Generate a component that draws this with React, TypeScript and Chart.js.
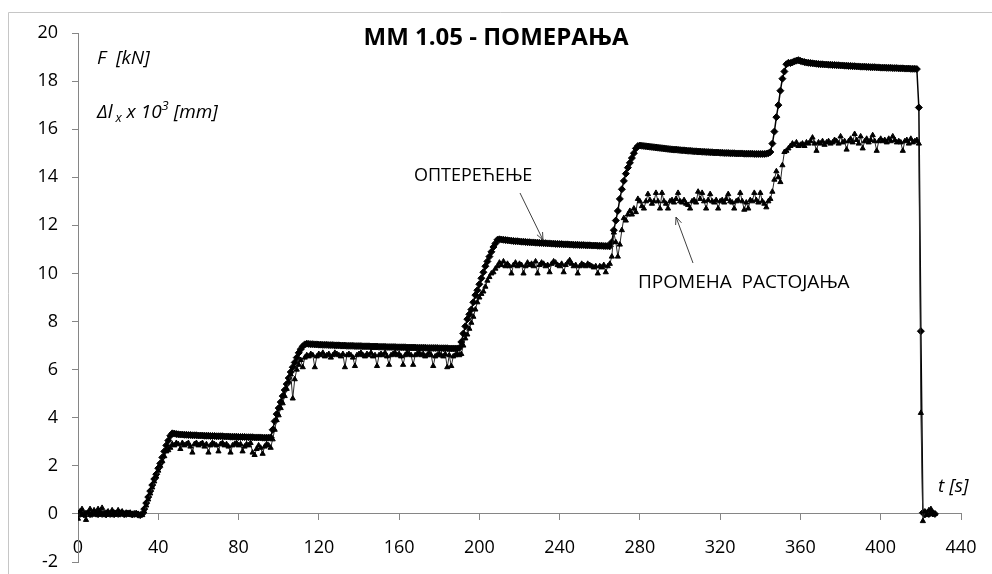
import React, { useEffect, useRef } from "react";
import { Chart, registerables } from "chart.js";

Chart.register(...registerables);

// sampling interval of the recorded signals [s]
const TIME_STEP_S = 1;

// ОПТЕРЕЋЕЊЕ – load F [kN], one sample per second from t = 0 s
const loadF = [
  0.02, 0.0, 0.03, -0.02, 0.01, 0.02, -0.01, 0.0, 0.03, 0.01,
  -0.01, 0.02, 0.0, 0.01, -0.02, 0.02, 0.0, 0.01, -0.01, 0.02,
  0.0, 0.01, 0.03, -0.01, 0.0, 0.02, 0.01, -0.02, 0.0, 0.01,
  -0.03, -0.05, 0.0, 0.2, 0.45, 0.7, 0.95, 1.2, 1.45, 1.65,
  1.9, 2.1, 2.35, 2.6, 2.85, 3.05, 3.25, 3.35, 3.34, 3.32,
  3.31, 3.3, 3.3, 3.29, 3.29, 3.28, 3.28, 3.27, 3.27, 3.27,
  3.26, 3.26, 3.26, 3.25, 3.25, 3.25, 3.24, 3.24, 3.24, 3.23,
  3.23, 3.23, 3.23, 3.22, 3.22, 3.22, 3.21, 3.21, 3.21, 3.21,
  3.2, 3.2, 3.2, 3.2, 3.19, 3.19, 3.19, 3.19, 3.18, 3.18,
  3.18, 3.18, 3.17, 3.17, 3.17, 3.17, 3.18, 3.5, 3.85, 4.15,
  4.4, 4.65, 4.9, 5.15, 5.4, 5.65, 5.9, 6.1, 6.3, 6.5,
  6.7, 6.85, 6.97, 7.05, 7.08, 7.07, 7.06, 7.06, 7.05, 7.05,
  7.04, 7.04, 7.03, 7.03, 7.03, 7.02, 7.02, 7.02, 7.01, 7.01,
  7.01, 7.0, 7.0, 7.0, 6.99, 6.99, 6.99, 6.99, 6.98, 6.98,
  6.98, 6.98, 6.97, 6.97, 6.97, 6.97, 6.96, 6.96, 6.96, 6.96,
  6.95, 6.95, 6.95, 6.95, 6.94, 6.94, 6.94, 6.94, 6.94, 6.93,
  6.93, 6.93, 6.93, 6.93, 6.92, 6.92, 6.92, 6.92, 6.92, 6.91,
  6.91, 6.91, 6.91, 6.91, 6.9, 6.9, 6.9, 6.9, 6.9, 6.9,
  6.89, 6.89, 6.89, 6.89, 6.89, 6.88, 6.88, 6.88, 6.88, 6.88,
  6.9, 7.15, 7.5, 7.8, 8.1, 8.3, 8.5, 8.8, 9.1, 9.3,
  9.55, 9.8, 10.05, 10.3, 10.5, 10.7, 10.9, 11.1, 11.25, 11.4,
  11.42, 11.41, 11.4, 11.39, 11.38, 11.37, 11.36, 11.35, 11.34, 11.34,
  11.33, 11.32, 11.32, 11.31, 11.3, 11.3, 11.29, 11.29, 11.28, 11.28,
  11.27, 11.27, 11.26, 11.26, 11.25, 11.25, 11.24, 11.24, 11.23, 11.23,
  11.22, 11.22, 11.21, 11.21, 11.21, 11.2, 11.2, 11.19, 11.19, 11.19,
  11.18, 11.18, 11.18, 11.17, 11.17, 11.17, 11.16, 11.16, 11.16, 11.15,
  11.15, 11.15, 11.14, 11.14, 11.14, 11.13, 11.3, 11.8, 12.2, 12.6,
  13.1, 13.5, 13.85, 14.15, 14.4, 14.6, 14.8, 15.0, 15.2, 15.3,
  15.32, 15.31, 15.3, 15.29, 15.28, 15.27, 15.26, 15.25, 15.24, 15.23,
  15.22, 15.21, 15.2, 15.19, 15.18, 15.17, 15.16, 15.15, 15.15, 15.14,
  15.13, 15.12, 15.12, 15.11, 15.1, 15.1, 15.09, 15.08, 15.08, 15.07,
  15.07, 15.06, 15.06, 15.05, 15.05, 15.04, 15.04, 15.03, 15.03, 15.03,
  15.02, 15.02, 15.01, 15.01, 15.01, 15.0, 15.0, 15.0, 14.99, 14.99,
  14.99, 14.99, 14.98, 14.98, 14.98, 14.98, 14.98, 14.97, 14.97, 14.97,
  14.97, 14.97, 14.97, 14.98, 15.0, 15.05, 15.4, 15.9, 16.5, 17.0,
  17.6, 18.1, 18.4, 18.7, 18.76, 18.75, 18.78, 18.82, 18.85, 18.87,
  18.84, 18.81, 18.79, 18.77, 18.76, 18.75, 18.74, 18.73, 18.72, 18.71,
  18.7, 18.7, 18.69, 18.69, 18.68, 18.68, 18.67, 18.67, 18.66, 18.66,
  18.65, 18.65, 18.64, 18.64, 18.63, 18.63, 18.62, 18.62, 18.61, 18.61,
  18.6, 18.6, 18.6, 18.59, 18.59, 18.58, 18.58, 18.58, 18.57, 18.57,
  18.56, 18.56, 18.56, 18.55, 18.55, 18.55, 18.54, 18.54, 18.54, 18.53,
  18.53, 18.53, 18.52, 18.52, 18.52, 18.51, 18.51, 18.51, 18.5, 16.9,
  7.6, 0.05, -0.02, 0.03, 0.0, 0.04, 0.02, 0.0,
];

// ПРОМЕНА РАСТОЈАЊА – Δl_x × 10³ [mm], one sample per second from t = 0 s
const distanceChange = [
  -0.2, 0.1, 0.2, -0.05, -0.25, 0.05, 0.2, 0.0, 0.15, 0.05,
  0.2, 0.1, 0.25, 0.0, 0.05, 0.1, 0.0, 0.15, 0.05, 0.0,
  0.15, 0.05, 0.1, 0.0, 0.05, 0.0, 0.05, 0.0, -0.05, 0.0,
  0.0, -0.05, -0.05, 0.1, 0.35, 0.6, 0.85, 1.1, 1.35, 1.55,
  1.8, 2.0, 2.2, 2.4, 2.6, 2.65, 2.75, 2.9, 2.85, 2.95,
  2.9, 2.7, 2.95, 2.85, 2.9, 2.95, 2.8, 2.55, 2.9, 2.95,
  2.85, 2.9, 2.95, 2.8, 2.9, 2.55, 2.85, 2.95, 2.9, 2.85,
  2.6, 2.9, 2.95, 2.85, 2.9, 2.8, 2.55, 2.85, 2.9, 2.95,
  2.85, 2.9, 2.6, 2.8, 2.9, 2.85, 2.95, 2.55, 2.45, 2.7,
  2.85, 2.75, 2.5, 2.8, 2.9, 2.85, 2.75, 3.1, 3.5, 3.9,
  4.1, 4.4, 4.6, 4.9, 5.2, 5.5, 5.8, 4.8, 5.6, 6.0,
  6.2, 6.4, 6.1, 6.5, 6.6, 6.55, 6.65, 6.6, 6.1, 6.55,
  6.65, 6.6, 6.7, 6.55, 6.6, 6.65, 6.5, 6.6, 6.7, 6.65,
  6.6, 6.55, 6.65, 6.1, 6.6, 6.65, 6.6, 6.5, 6.15, 6.6,
  6.65, 6.7, 6.6, 6.55, 6.65, 6.6, 6.7, 6.55, 6.6, 6.15,
  6.6, 6.65, 6.6, 6.7, 6.55, 6.2, 6.6, 6.65, 6.7, 6.6,
  6.65, 6.55, 6.2, 6.6, 6.7, 6.65, 6.6, 6.2, 6.6, 6.65,
  6.7, 6.6, 6.65, 6.55, 6.6, 6.7, 6.6, 6.15, 6.55, 6.6,
  6.65, 6.6, 6.55, 6.65, 6.1, 6.6, 6.15, 6.55, 6.6, 6.65,
  6.6, 6.65, 7.0, 7.3, 7.46, 7.7, 7.95, 8.2, 8.5, 8.8,
  9.0, 9.15, 9.25, 9.45, 9.7, 9.85, 10.0, 10.05, 10.2, 10.3,
  10.45, 10.35, 10.5, 10.3, 10.4, 10.3, 10.0, 10.35, 10.45, 10.3,
  10.4, 10.35, 10.0, 10.3, 10.45, 10.35, 10.4, 10.3, 10.5, 10.0,
  10.35, 10.45, 10.4, 10.3, 10.35, 10.05, 10.4, 10.5, 10.45, 10.35,
  10.3, 10.4, 10.05, 10.35, 10.45, 10.55, 10.4, 10.3, 10.35, 10.0,
  10.3, 10.4, 10.35, 10.3, 10.4, 10.35, 10.3, 10.25, 10.3, 10.0,
  10.3, 10.25, 10.35, 10.05, 10.3, 10.4, 10.7, 11.7, 11.3, 10.7,
  11.2, 11.8, 12.3, 12.2, 12.45, 12.6, 12.45, 12.7, 12.55, 13.1,
  13.0, 12.8, 12.7, 13.0, 13.3, 13.05, 12.9, 13.0, 13.35, 13.0,
  12.7, 13.35, 13.0, 12.9, 12.7, 13.0, 13.05, 12.95, 13.1, 13.35,
  13.0, 12.95, 13.05, 12.9, 12.85, 12.7, 13.0, 13.05, 12.95, 13.4,
  13.1, 13.35, 13.0, 12.7, 13.05, 13.3, 13.0, 12.95, 13.05, 12.7,
  13.0, 13.05, 12.95, 13.1, 13.3, 13.0, 12.95, 12.7, 13.0, 13.05,
  13.35, 13.0, 12.65, 12.95, 12.7, 13.05, 13.0, 13.35, 13.05, 12.95,
  13.35, 13.0, 12.9, 12.75, 13.0, 13.1, 13.4, 13.9, 14.25, 14.0,
  13.8, 14.5, 15.05, 15.1, 15.2, 15.3, 15.4, 15.35, 15.45, 15.3,
  15.35, 15.4, 15.3, 15.45, 15.4, 15.5, 15.65, 15.4, 15.1, 15.45,
  15.4, 15.5, 15.35, 15.45, 15.5, 15.4, 15.45, 15.55, 15.5, 15.4,
  15.7, 15.45, 15.5, 15.15, 15.5, 15.6, 15.45, 15.8, 15.55, 15.4,
  15.7, 15.2, 15.5, 15.6, 15.45, 15.55, 15.75, 15.5, 15.1, 15.5,
  15.6, 15.5, 15.55, 15.45, 15.6, 15.5, 15.7, 15.55, 15.45, 15.5,
  15.45, 15.1, 15.5, 15.55, 15.4, 15.6, 15.45, 15.5, 15.55, 15.4,
  4.2, -0.3, 0.1, -0.05, 0.15, 0.2, 0.05, 0.0,
];

const X_MIN = 0;
const X_MAX = 440;
const X_STEP = 40;
const Y_MIN = -2;
const Y_MAX = 20;
const Y_STEP = 2;

const TITLE = "ММ 1.05 - ПОМЕРАЊА";
const LABEL_LOAD = "ОПТЕРЕЋЕЊЕ";
const LABEL_DIST = "ПРОМЕНА  РАСТОЈАЊА";

const FONT = "'Open Sans', 'Noto Sans', sans-serif";
const AXIS_GRAY = "#868686";

const toPoints = (vals: number[]) =>
  vals.map((v, i) => ({ x: i * TIME_STEP_S, y: v }));

const decorPlugin = {
  id: "decor",
  afterDraw(chart: any) {
    const ctx = chart.ctx as CanvasRenderingContext2D;
    ctx.save();
    // outer frame
    ctx.strokeStyle = "#c6c6c6";
    ctx.lineWidth = 1;
    ctx.beginPath();
    ctx.moveTo(8.5, 574);
    ctx.lineTo(8.5, 12.5);
    ctx.lineTo(992, 12.5);
    ctx.stroke();

    ctx.fillStyle = "#000";
    ctx.textBaseline = "alphabetic";
    // title
    ctx.font = `bold 24px ${FONT}`;
    ctx.textAlign = "center";
    ctx.fillText(TITLE, 496, 45);

    // y axis labels
    ctx.textAlign = "left";
    ctx.font = `italic 19px ${FONT}`;
    ctx.fillText("F  [kN]", 97, 64);
    let x = 97;
    const base = 118;
    ctx.font = `italic 19px ${FONT}`;
    ctx.fillText("Δl", x, base);
    x += ctx.measureText("Δl").width + 3;
    ctx.font = `italic 13px ${FONT}`;
    ctx.fillText("x", x, base + 4);
    x += ctx.measureText("x").width;
    ctx.font = `italic 19px ${FONT}`;
    ctx.fillText(" x 10", x, base);
    x += ctx.measureText(" x 10").width;
    ctx.font = `italic 13px ${FONT}`;
    ctx.fillText("3", x, base - 8);
    x += ctx.measureText("3").width;
    ctx.font = `italic 19px ${FONT}`;
    ctx.fillText(" [mm]", x, base);

    // x axis label
    ctx.fillText("t [s]", 938, 492);

    // series annotations
    ctx.font = `18px ${FONT}`;
    ctx.fillText(LABEL_LOAD, 414, 181);
    ctx.font = `19px ${FONT}`;
    ctx.fillText(LABEL_DIST, 638, 288);

    // arrows
    const arrow = (x1: number, y1: number, x2: number, y2: number) => {
      ctx.strokeStyle = "#404040";
      ctx.lineWidth = 1;
      ctx.beginPath();
      ctx.moveTo(x1, y1);
      ctx.lineTo(x2, y2);
      const a = Math.atan2(y2 - y1, x2 - x1);
      const h = 8;
      ctx.moveTo(x2 - h * Math.cos(a - 0.4), y2 - h * Math.sin(a - 0.4));
      ctx.lineTo(x2, y2);
      ctx.lineTo(x2 - h * Math.cos(a + 0.4), y2 - h * Math.sin(a + 0.4));
      ctx.stroke();
    };
    arrow(520, 193, 543, 240);
    arrow(693, 263, 676, 217);
    ctx.restore();
  },
};

export default function App() {
  const ref = useRef<HTMLCanvasElement | null>(null);

  useEffect(() => {
    if (!ref.current) return;
    const chart = new Chart(ref.current, {
      type: "line",
      data: {
        datasets: [
          {
            label: LABEL_DIST,
            data: toPoints(distanceChange),
            borderColor: "#2a2a2a",
            borderWidth: 1,
            pointStyle: "triangle",
            pointRadius: 3,
            pointBackgroundColor: "#000",
            pointBorderColor: "#000",
            pointBorderWidth: 1,
            tension: 0,
          },
          {
            label: LABEL_LOAD,
            data: toPoints(loadF),
            borderColor: "#000",
            borderWidth: 1.5,
            pointStyle: "rectRot",
            pointRadius: 3.5,
            pointBackgroundColor: "#000",
            pointBorderColor: "#000",
            pointBorderWidth: 1,
            tension: 0,
          },
        ],
      },
      options: {
        animation: false,
        responsive: false,
        devicePixelRatio: 1,
        layout: { padding: { left: 28, top: 33, right: 31, bottom: 12 } },
        plugins: {
          legend: { display: false },
          title: { display: false },
          tooltip: { enabled: false },
        },
        scales: {
          x: {
            type: "linear",
            min: X_MIN,
            max: X_MAX,
            position: { y: 0 } as any,
            afterFit: (s: any) => {
              s.paddingLeft = 0;
              s.paddingRight = 0;
              s.paddingTop = 0;
              s.paddingBottom = 0;
            },
            ticks: {
              stepSize: X_STEP,
              autoSkip: false,
              maxRotation: 0,
              padding: 17,
              color: "#000",
              font: { family: FONT, size: 18 },
            },
            grid: {
              display: true,
              drawOnChartArea: false,
              drawTicks: true,
              tickLength: 6,
              color: AXIS_GRAY,
            },
            border: { display: true, color: AXIS_GRAY, width: 1 },
          },
          y: {
            type: "linear",
            min: Y_MIN,
            max: Y_MAX,
            afterFit: (s: any) => {
              s.width = 50;
              s.paddingTop = 0;
              s.paddingBottom = 0;
            },
            ticks: {
              stepSize: Y_STEP,
              padding: 14,
              color: "#000",
              font: { family: FONT, size: 18 },
            },
            grid: {
              display: true,
              drawOnChartArea: false,
              drawTicks: true,
              tickLength: 6,
              color: AXIS_GRAY,
            },
            border: { display: true, color: AXIS_GRAY, width: 1 },
          },
        },
      },
      plugins: [decorPlugin],
    });
    return () => chart.destroy();
  }, []);

  return (
    <div style={{ position: "fixed", left: 0, top: 0, width: 992, height: 574, background: "#fff" }}>
      <canvas ref={ref} width={992} height={574} style={{ width: 992, height: 574, display: "block" }} />
    </div>
  );
}
